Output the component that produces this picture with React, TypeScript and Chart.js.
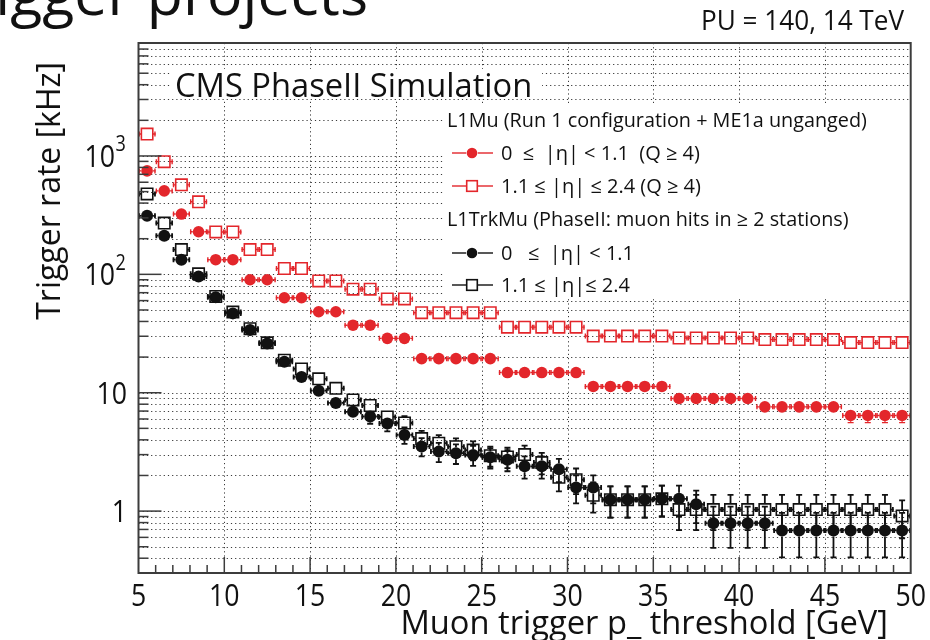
import React, { useEffect, useRef } from "react";
import { Chart, registerables } from "chart.js";

Chart.register(...registerables);

// ---------- data ----------
const ptThresholds = [
  5.5, 6.5, 7.5, 8.5, 9.5, 10.5, 11.5, 12.5, 13.5, 14.5, 15.5, 16.5, 17.5, 18.5, 19.5,
  20.5, 21.5, 22.5, 23.5, 24.5, 25.5, 26.5, 27.5, 28.5, 29.5, 30.5, 31.5, 32.5, 33.5, 34.5,
  35.5, 36.5, 37.5, 38.5, 39.5, 40.5, 41.5, 42.5, 43.5, 44.5, 45.5, 46.5, 47.5, 48.5, 49.5,
];
const binHalfWidth = 0.5;

// L1Mu, 0 <= |eta| < 1.1 (red filled circles)
const l1MuBarrel = [
  748, 507, 323, 229, 133, 133, 90, 90, 63.4, 63.4, 48.3, 48.3, 37.2, 37.2, 28.8,
  28.8, 19.4, 19.4, 19.4, 19.4, 19.4, 14.8, 14.8, 14.8, 14.8, 14.8, 11.3, 11.3, 11.3, 11.3,
  11.3, 8.94, 8.94, 8.94, 8.94, 8.94, 7.6, 7.6, 7.6, 7.6, 7.6, 6.43, 6.43, 6.43, 6.43,
];
const l1MuBarrelErr = [
  9, 7.5, 6, 5, 3.8, 3.8, 3.1, 3.1, 2.6, 2.6, 2.3, 2.3, 2.0, 2.0, 1.8,
  1.8, 1.46, 1.46, 1.46, 1.46, 1.46, 1.28, 1.28, 1.28, 1.28, 1.28, 1.1, 1.1, 1.1, 1.1,
  1.1, 1.0, 1.0, 1.0, 1.0, 1.0, 0.91, 0.91, 0.91, 0.91, 0.91, 0.84, 0.84, 0.84, 0.84,
];
// L1Mu, 1.1 <= |eta| <= 2.4 (red open squares)
const l1MuEndcap = [
  1531, 895, 570, 410, 228, 228, 162, 162, 112, 112, 88, 88, 75, 75, 62,
  62, 47.4, 47.4, 47.4, 47.4, 47.4, 35.8, 35.8, 35.8, 35.8, 35.8, 30.1, 30.1, 30.1, 30.1,
  30.1, 29.0, 29.0, 29.0, 29.0, 29.0, 28.1, 28.1, 28.1, 28.1, 28.1, 26.5, 26.5, 26.5, 26.5,
];
const l1MuEndcapErr = [
  13, 10, 8, 6.7, 5, 5, 4.2, 4.2, 3.5, 3.5, 3.1, 3.1, 2.9, 2.9, 2.6,
  2.6, 2.3, 2.3, 2.3, 2.3, 2.3, 2.0, 2.0, 2.0, 2.0, 2.0, 1.8, 1.8, 1.8, 1.8,
  1.8, 1.8, 1.8, 1.8, 1.8, 1.8, 1.75, 1.75, 1.75, 1.75, 1.75, 1.7, 1.7, 1.7, 1.7,
];
// L1TrkMu, 0 <= |eta| < 1.1 (black filled circles)
const trkMuBarrel = [
  312, 212, 133, 96, 64, 46.8, 33.8, 26, 18.3, 13.6, 10.4, 8.2, 6.9, 6.3, 5.5,
  4.4, 3.52, 3.18, 3.08, 2.98, 2.85, 2.72, 2.39, 2.39, 2.26, 1.58, 1.58, 1.25, 1.25, 1.25,
  1.27, 1.27, 1.14, 0.79, 0.79, 0.79, 0.79, 0.687, 0.687, 0.687, 0.687, 0.687, 0.687, 0.687, 0.687,
];
const trkMuBarrelErr = [
  5.9, 4.8, 3.8, 3.2, 2.7, 2.3, 1.9, 1.7, 1.4, 1.2, 1.07, 0.96, 0.87, 0.83, 0.78,
  0.7, 0.62, 0.59, 0.58, 0.57, 0.56, 0.55, 0.51, 0.51, 0.5, 0.42, 0.42, 0.37, 0.37, 0.37,
  0.37, 0.37, 0.35, 0.3, 0.3, 0.3, 0.3, 0.28, 0.28, 0.28, 0.28, 0.28, 0.28, 0.28, 0.28,
];
// L1TrkMu, 1.1 <= |eta| <= 2.4 (black open squares)
const trkMuEndcap = [
  478, 271, 162, 101, 65, 48, 34.7, 26.4, 18.8, 15.9, 13.1, 10.9, 8.7, 7.8, 6.25,
  5.55, 4.1, 3.75, 3.5, 3.28, 2.94, 2.87, 3.0, 2.57, 1.93, 1.84, 1.36, 1.25, 1.25, 1.25,
  1.27, 1.03, 1.03, 1.03, 1.03, 1.03, 1.03, 1.03, 1.03, 1.03, 1.03, 1.03, 1.03, 1.03, 0.91,
];
const trkMuEndcapErr = [
  7.3, 5.5, 4.2, 3.3, 2.7, 2.3, 2.0, 1.7, 1.4, 1.3, 1.2, 1.1, 0.98, 0.92, 0.83,
  0.78, 0.67, 0.64, 0.62, 0.6, 0.57, 0.56, 0.57, 0.53, 0.46, 0.45, 0.39, 0.37, 0.37, 0.37,
  0.37, 0.34, 0.34, 0.34, 0.34, 0.34, 0.34, 0.34, 0.34, 0.34, 0.34, 0.34, 0.34, 0.34, 0.32,
];

// ---------- axes / texts ----------
const xMajorTicks = [5, 10, 15, 20, 25, 30, 35, 40, 45, 50];
const xTickLabels = ["5", "10", "15", "20", "25", "30", "35", "40", "45", "50"];
const yMajorTicks = [1, 10, 100, 1000];
const yTickLabels = ["1", "10", "10^2", "10^3"];
const yMinorFactors = [2, 3, 4, 5, 6, 7, 8, 9];
const X_MIN = 5, X_MAX = 50, Y_MIN = 0.3, Y_MAX = 9000;

const xTitle = "Muon trigger p_ threshold [GeV]";
const yTitle = "Trigger rate [kHz]";
const slideTitle = "Trigger projects";
const cmsLabel = "CMS PhaseII Simulation";
const puLabel = "PU = 140, 14 TeV";
const legendHeader1 = "L1Mu (Run 1 configuration + ME1a unganged)";
const legendHeader2 = "L1TrkMu (PhaseII: muon hits in \u2265 2 stations)";
const labelL1MuBarrel = "0  \u2264  |\u03b7| < 1.1  (Q \u2265 4)";
const labelL1MuEndcap = "1.1 \u2264 |\u03b7| \u2264 2.4 (Q \u2265 4)";
const labelTrkBarrel = "0   \u2264  |\u03b7| < 1.1";
const labelTrkEndcap = "1.1 \u2264 |\u03b7|\u2264 2.4";

const RED = "#e3262b";
const BLACK = "#111111";
const FONT = "'Open Sans', 'DejaVu Sans', sans-serif";

type Series = {
  label: string;
  values: number[];
  errors: number[];
  color: string;
  filled: boolean;
  half: number;
  lw: number;
};

const series: Series[] = [
  { label: labelL1MuBarrel, values: l1MuBarrel, errors: l1MuBarrelErr, color: RED, filled: true, half: 5.8, lw: 1.4 },
  { label: labelL1MuEndcap, values: l1MuEndcap, errors: l1MuEndcapErr, color: RED, filled: false, half: 5.7, lw: 1.4 },
  { label: labelTrkBarrel, values: trkMuBarrel, errors: trkMuBarrelErr, color: BLACK, filled: true, half: 6.0, lw: 1.8 },
  { label: labelTrkEndcap, values: trkMuEndcap, errors: trkMuEndcapErr, color: BLACK, filled: false, half: 5.7, lw: 1.8 },
];

function line(ctx: CanvasRenderingContext2D, x1: number, y1: number, x2: number, y2: number) {
  ctx.beginPath();
  ctx.moveTo(x1, y1);
  ctx.lineTo(x2, y2);
  ctx.stroke();
}

function text(
  ctx: CanvasRenderingContext2D,
  s: string,
  x: number,
  y: number,
  size: number,
  align: CanvasTextAlign = "left",
  sx = 1,
  color = BLACK
) {
  ctx.save();
  ctx.font = `${size}px ${FONT}`;
  ctx.fillStyle = color;
  ctx.textAlign = align;
  ctx.textBaseline = "alphabetic";
  ctx.translate(x, y);
  ctx.scale(sx, 1);
  ctx.fillText(s, 0, 0);
  ctx.restore();
}

function marker(ctx: CanvasRenderingContext2D, s: Series, x: number, y: number) {
  ctx.save();
  if (s.filled) {
    ctx.fillStyle = s.color;
    ctx.beginPath();
    ctx.arc(x, y, s.half, 0, Math.PI * 2);
    ctx.fill();
  } else {
    ctx.strokeStyle = s.color;
    ctx.lineWidth = 1.6;
    ctx.strokeRect(x - s.half, y - s.half, s.half * 2, s.half * 2);
  }
  ctx.restore();
}

function gridValues(): { v: number; major: boolean }[] {
  const out: { v: number; major: boolean }[] = [];
  const decades = [0.1, ...yMajorTicks];
  decades.forEach((d) => {
    if (d >= Y_MIN && d <= Y_MAX) out.push({ v: d, major: yMajorTicks.includes(d) });
    yMinorFactors.forEach((f) => {
      const v = d * f;
      if (v >= Y_MIN - 1e-9 && v <= Y_MAX + 1e-9) out.push({ v, major: false });
    });
  });
  return out;
}

const rootPlugin = {
  id: "rootStyle",
  beforeDatasetsDraw(chart: any) {
    const { ctx, chartArea: a } = chart;
    const xs = chart.scales.x;
    const ys = chart.scales.y;
    ctx.save();
    // dotted grid
    ctx.strokeStyle = "#3a3a3a";
    ctx.lineWidth = 1;
    ctx.setLineDash([1.2, 3]);
    gridValues().forEach(({ v }) => {
      const py = Math.round(ys.getPixelForValue(v)) + 0.5;
      if (py > a.top + 1 && py < a.bottom - 1) line(ctx, a.left, py, a.right, py);
    });
    xMajorTicks.forEach((v) => {
      if (v === X_MIN || v === X_MAX) return;
      const px = Math.round(xs.getPixelForValue(v)) + 0.5;
      line(ctx, px, a.top, px, a.bottom);
    });
    ctx.setLineDash([]);
    // white boxes behind labels
    ctx.fillStyle = "#ffffff";
    ctx.fillRect(443, 104, a.right - 444, 194);
    ctx.fillRect(170, 69, 372, 30);

    // error bars
    ctx.beginPath();
    ctx.rect(a.left, a.top, a.right - a.left, a.bottom - a.top);
    ctx.clip();
    series.forEach((s) => {
      ctx.strokeStyle = s.color;
      ctx.lineWidth = s.lw;
      const h = s.half;
      ptThresholds.forEach((xv, i) => {
        const v = s.values[i];
        const e = s.errors[i];
        const px = xs.getPixelForValue(xv);
        const py = ys.getPixelForValue(v);
        const xl = xs.getPixelForValue(xv - binHalfWidth);
        const xr = xs.getPixelForValue(xv + binHalfWidth);
        line(ctx, xl, py, px - h, py);
        line(ctx, px + h, py, xr, py);
        line(ctx, xl + 0.7, py - 2.5, xl + 0.7, py + 2.5);
        line(ctx, xr - 0.7, py - 2.5, xr - 0.7, py + 2.5);
        const yt = ys.getPixelForValue(v + e);
        const yb = v - e > 0.05 ? ys.getPixelForValue(v - e) : a.bottom + 20;
        if (yt < py - h - 1) {
          line(ctx, px, yt, px, py - h);
          line(ctx, px - 3, yt, px + 3, yt);
        }
        if (yb > py + h + 1) {
          line(ctx, px, py + h, px, yb);
          line(ctx, px - 3, yb, px + 3, yb);
        }
      });
    });
    ctx.restore();
  },
  afterDatasetsDraw(chart: any) {
    const { ctx, chartArea: a } = chart;
    const xs = chart.scales.x;
    const ys = chart.scales.y;
    ctx.save();
    // frame
    ctx.strokeStyle = "#3c3c3c";
    ctx.lineWidth = 2;
    ctx.strokeRect(a.left, a.top, a.right - a.left, a.bottom - a.top);
    // y ticks (inside, left)
    ctx.lineWidth = 1.5;
    gridValues().forEach(({ v, major }) => {
      const py = ys.getPixelForValue(v);
      if (py <= a.top + 1 || py >= a.bottom - 1) return;
      line(ctx, a.left, py, a.left + (major ? 23 : 10), py);
    });
    // x ticks (inside, bottom)
    for (let v = X_MIN; v <= X_MAX; v += 1) {
      const px = xs.getPixelForValue(v);
      const major = xMajorTicks.includes(v);
      if (v === X_MIN || v === X_MAX) continue;
      line(ctx, px, a.bottom, px, a.bottom - (major ? 16 : 8));
    }
    // x tick labels
    xMajorTicks.forEach((v, i) => {
      text(ctx, xTickLabels[i], xs.getPixelForValue(v), 606, 31, "center", 0.86);
    });
    // y tick labels
    yMajorTicks.forEach((v, i) => {
      const py = ys.getPixelForValue(v);
      const lab = yTickLabels[i];
      if (lab.includes("^")) {
        const [base, exp] = lab.split("^");
        text(ctx, base, 115, py + 11, 31, "right", 0.86);
        text(ctx, exp, 115.5, py - 4.5, 21, "left", 0.86);
      } else {
        text(ctx, lab, 127, py + 11, 31, "right", 0.86);
      }
    });
    // axis titles
    text(ctx, xTitle, 888, 634, 33, "right", 0.99);
    ctx.save();
    ctx.translate(60, 62);
    ctx.rotate(-Math.PI / 2);
    text(ctx, yTitle, 0, 0, 32, "right");
    ctx.restore();
    // other labels
    text(ctx, cmsLabel, 175, 97, 33, "left", 0.99);
    text(ctx, puLabel, 904, 30, 27.5, "right", 0.95);
    text(ctx, slideTitle, 368, 15, 59, "right");

    // legend
    text(ctx, legendHeader1, 447, 127, 20, "left", 0.99);
    text(ctx, legendHeader2, 447, 226, 20, "left", 0.99);
    const entryY = [153, 186, 253, 285];
    series.forEach((s, i) => {
      const y = entryY[i];
      ctx.strokeStyle = s.color;
      ctx.lineWidth = 1.4;
      line(ctx, 452, y, 472 - s.half, y);
      line(ctx, 472 + s.half, y, 493, y);
      marker(ctx, { ...s, half: s.filled ? 5.3 : 5.3 }, 472, y);
      text(ctx, s.label, 501, y + 7, 20);
    });
    ctx.restore();
  },
};

export default function App() {
  const ref = useRef<HTMLCanvasElement>(null);
  useEffect(() => {
    document.body.style.margin = "0";
    const canvas = ref.current;
    if (!canvas) return;
    const chart = new Chart(canvas, {
      type: "scatter",
      data: {
        datasets: series.map((s) => ({
          label: s.label,
          data: ptThresholds.map((x, i) => ({ x, y: s.values[i] })),
          pointStyle: s.filled ? "circle" : "rect",
          pointRadius: s.filled ? s.half : s.half * Math.SQRT2,
          pointHoverRadius: s.filled ? s.half : s.half * Math.SQRT2,
          pointBackgroundColor: s.filled ? s.color : "rgba(0,0,0,0)",
          pointBorderColor: s.color,
          pointBorderWidth: s.filled ? 0 : 1.6,
          showLine: false,
        })),
      },
      options: {
        responsive: false,
        animation: false,
        events: [],
        layout: { padding: { left: 138.5, right: 19.3, top: 43, bottom: 67 } },
        scales: {
          x: { type: "linear", min: X_MIN, max: X_MAX, display: false },
          y: { type: "logarithmic", min: Y_MIN, max: Y_MAX, display: false },
        },
        plugins: { legend: { display: false }, tooltip: { enabled: false } },
      },
      plugins: [rootPlugin],
    } as any);
    return () => chart.destroy();
  }, []);
  return (
    <div style={{ position: "relative", width: 930, height: 640, background: "#fff" }}>
      <canvas ref={ref} width={930} height={640} style={{ display: "block", width: 930, height: 640 }} />
    </div>
  );
}
